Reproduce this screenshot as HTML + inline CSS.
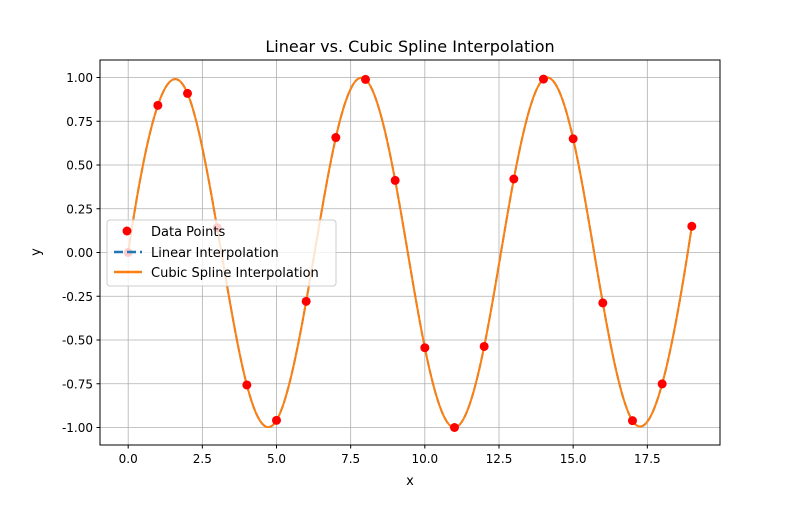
<!DOCTYPE html>
<html><head><meta charset="utf-8"><style>
body{margin:0;background:#fff}
text{font-family:"DejaVu Sans","Liberation Sans",sans-serif;fill:#000}
</style></head><body>
<svg id="chart" width="800" height="500" xmlns="http://www.w3.org/2000/svg">
<rect width="800" height="500" fill="#fff"/>
<text x="410" y="52" font-size="16" text-anchor="middle">Linear vs. Cubic Spline Interpolation</text>
<g id="grid"></g><g id="ticks"></g><g id="series"></g>
<rect x="100" y="60" width="620" height="385" fill="none" stroke="#000" stroke-width="1"/>
<text x="410" y="485" font-size="13" text-anchor="middle">x</text>
<text x="0" y="0" font-size="13" text-anchor="middle" transform="translate(40,252) rotate(-90)">y</text>
<g>
<rect x="107" y="220" width="229" height="66" rx="3" fill="#fff" fill-opacity="0.8" stroke="#ccc"/>
<circle cx="127" cy="231" r="4.5" fill="red"/>
<text x="151" y="236" font-size="13">Data Points</text>
<line x1="114" y1="252" x2="142" y2="252" stroke="#1f77b4" stroke-width="2.5" stroke-dasharray="9,4"/>
<text x="151" y="257" font-size="13">Linear Interpolation</text>
<line x1="114" y1="272" x2="142" y2="272" stroke="#ff7f0e" stroke-width="2.5"/>
<text x="151" y="277" font-size="13">Cubic Spline Interpolation</text>
</g>
</svg>
<script>
const xData=[0,1,2,3,4,5,6,7,8,9,10,11,12,13,14,15,16,17,18,19];
const yData=[0,0.841,0.909,0.141,-0.757,-0.959,-0.279,0.657,0.989,0.412,-0.544,-1.0,-0.537,0.420,0.991,0.650,-0.288,-0.961,-0.751,0.150];
const xTicks=[0,2.5,5,7.5,10,12.5,15,17.5];
const yTicks=[-1,-0.75,-0.5,-0.25,0,0.25,0.5,0.75,1];
const NS="http://www.w3.org/2000/svg";
const L=100,R=720,T=60,B=445;
const xmin=-0.95,xmax=19.95,ymin=-1.1,ymax=1.1;
const sx=v=>L+(v-xmin)/(xmax-xmin)*(R-L);
const sy=v=>B-(v-ymin)/(ymax-ymin)*(B-T);
function mk(tag,attrs,parent){const e=document.createElementNS(NS,tag);for(const k in attrs)e.setAttribute(k,attrs[k]);document.getElementById(parent).appendChild(e);return e;}
xTicks.forEach(t=>{
 const g=mk('line',{x1:sx(t),x2:sx(t),y1:T,y2:B,stroke:'#b0b0b0','stroke-width':0.8},'grid');
 
 
 mk('line',{x1:sx(t),x2:sx(t),y1:B,y2:B+3.5,stroke:'#000'},'ticks');
 const tx=mk('text',{x:sx(t),y:B+18,'font-size':12,'text-anchor':'middle'},'ticks');
 tx.textContent=t.toFixed(1);
 
 
});
yTicks.forEach(t=>{
 const g=mk('line',{x1:L,x2:R,y1:sy(t),y2:sy(t),stroke:'#b0b0b0','stroke-width':0.8},'grid');
 
 
 mk('line',{x1:L-3.5,x2:L,y1:sy(t),y2:sy(t),stroke:'#000'},'ticks');
 const tx=mk('text',{x:L-7,y:sy(t)+4.5,'font-size':12,'text-anchor':'end'},'ticks');
 tx.textContent=t.toFixed(2);
 
 
});
// not-a-knot cubic spline (uniform spacing assumed via general h)
const n=xData.length;
const A=[],rhs=[];
for(let i=0;i<n;i++){A.push(new Array(n).fill(0));rhs.push(0);}
A[0][0]=1;A[0][1]=-2;A[0][2]=1;
A[n-1][n-3]=1;A[n-1][n-2]=-2;A[n-1][n-1]=1;
for(let i=1;i<n-1;i++){
 const h0=xData[i]-xData[i-1],h1=xData[i+1]-xData[i];
 A[i][i-1]=h0;A[i][i]=2*(h0+h1);A[i][i+1]=h1;
 rhs[i]=6*((yData[i+1]-yData[i])/h1-(yData[i]-yData[i-1])/h0);
}
for(let c=0;c<n;c++){let p=c;for(let r=c+1;r<n;r++)if(Math.abs(A[r][c])>Math.abs(A[p][c]))p=r;
 [A[c],A[p]]=[A[p],A[c]];[rhs[c],rhs[p]]=[rhs[p],rhs[c]];
 for(let r=0;r<n;r++){if(r===c)continue;const f=A[r][c]/A[c][c];if(!f)continue;for(let k=c;k<n;k++)A[r][k]-=f*A[c][k];rhs[r]-=f*rhs[c];}}
const M=rhs.map((v,i)=>v/A[i][i]);
function spline(x){let i=Math.min(n-2,Math.max(0,Math.floor(x-xData[0])));
 while(i<n-2&&x>xData[i+1])i++;
 const h=xData[i+1]-xData[i],a=xData[i+1]-x,b=x-xData[i];
 return M[i]*a*a*a/(6*h)+M[i+1]*b*b*b/(6*h)+(yData[i]/h-M[i]*h/6)*a+(yData[i+1]/h-M[i+1]*h/6)*b;}
let pts=[];
for(let k=0;k<=1000;k++){const x=xData[0]+(xData[n-1]-xData[0])*k/1000;pts.push(sx(x).toFixed(2)+','+sy(spline(x)).toFixed(2));}
const lin=mk('polyline',{points:pts.join(' '),fill:'none',stroke:'#1f77b4','stroke-width':2,'stroke-dasharray':'7,3'},'series');


const cub=mk('polyline',{points:pts.join(' '),fill:'none',stroke:'#ff7f0e','stroke-width':2},'series');


xData.forEach((x,i)=>{
 const c=mk('circle',{cx:sx(x),cy:sy(yData[i]),r:4.5,fill:'red'},'series');
 
 
});
</script>
</body></html>
